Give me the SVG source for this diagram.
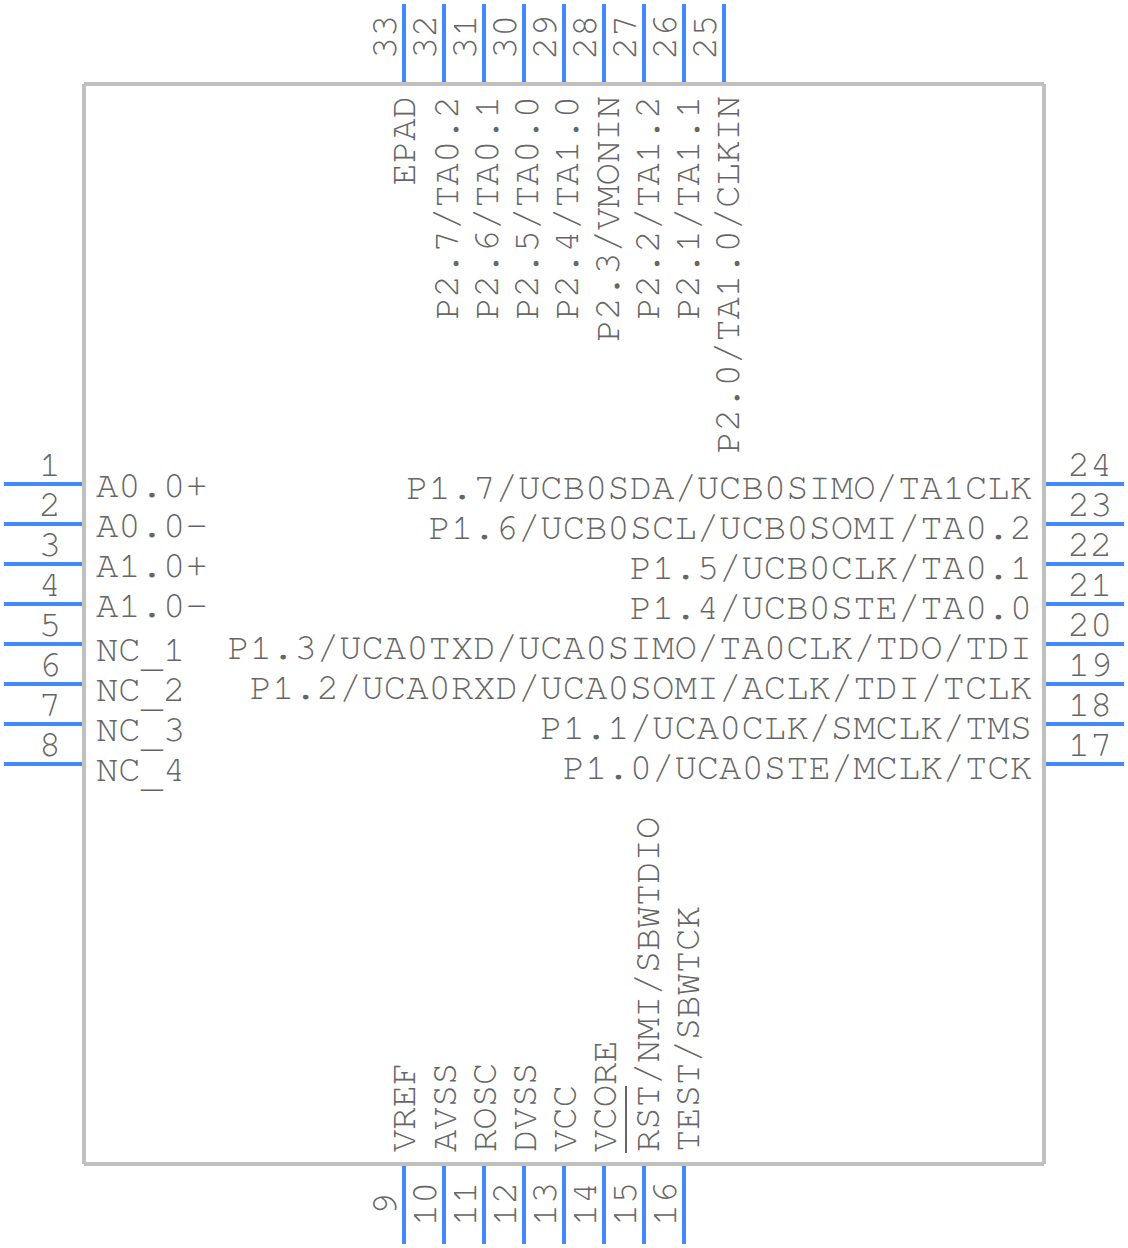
<svg xmlns="http://www.w3.org/2000/svg" width="1128" height="1248" viewBox="0 0 1128 1248">
<style>
.pin{stroke:#4488ff;stroke-width:4;fill:none}
.body{stroke:#c0c0c0;stroke-width:4;fill:none}
text{font-family:FreeMono,"Liberation Mono","Courier New",monospace;font-size:37.25px;font-kerning:none;fill:#666}
.e{text-anchor:end}.m{text-anchor:middle}
</style>
<rect width="1128" height="1248" fill="#fff"/>
<g id="body"><path class="body" d="M84 84H1044M1044 84V1164M1044 1164H84M84 1164V84"/></g>
<g id="connectors">
<path class="pin" d="M4 484H82M4 524H82M4 564H82M4 604H82M4 644H82M4 684H82M4 724H82M4 764H82"/>
<path class="pin" d="M1046 484H1124M1046 524H1124M1046 564H1124M1046 604H1124M1046 644H1124M1046 684H1124M1046 724H1124M1046 764H1124"/>
<path class="pin" d="M404 4V82M444 4V82M484 4V82M524 4V82M564 4V82M604 4V82M644 4V82M684 4V82M724 4V82"/>
<path class="pin" d="M404 1166V1244M444 1166V1244M484 1166V1244M524 1166V1244M564 1166V1244M604 1166V1244M644 1166V1244M684 1166V1244"/>
</g>
<g id="left-pins">
<text class="m" x="50" y="476">1</text>
<text class="m" x="50" y="516">2</text>
<text class="m" x="50" y="556">3</text>
<text class="m" x="50" y="596">4</text>
<text class="m" x="50" y="636">5</text>
<text class="m" x="50" y="676">6</text>
<text class="m" x="50" y="716">7</text>
<text class="m" x="50" y="756">8</text>
<text x="96" y="497">A0.0+</text>
<text x="96" y="537">A0.0-</text>
<text x="96" y="577">A1.0+</text>
<text x="96" y="617">A1.0-</text>
<text x="96" y="661">NC<tspan dy="6">_</tspan><tspan dy="-6">1</tspan></text>
<text x="96" y="701">NC<tspan dy="6">_</tspan><tspan dy="-6">2</tspan></text>
<text x="96" y="741">NC<tspan dy="6">_</tspan><tspan dy="-6">3</tspan></text>
<text x="96" y="781">NC<tspan dy="6">_</tspan><tspan dy="-6">4</tspan></text>
</g>
<g id="right-pins">
<text class="m" x="1090" y="476">24</text>
<text class="m" x="1090" y="516">23</text>
<text class="m" x="1090" y="556">22</text>
<text class="m" x="1090" y="596">21</text>
<text class="m" x="1090" y="636">20</text>
<text class="m" x="1090" y="676">19</text>
<text class="m" x="1090" y="716">18</text>
<text class="m" x="1090" y="756">17</text>
<text class="e" x="1032" y="499">P1.7/UCB0SDA/UCB0SIMO/TA1CLK</text>
<text class="e" x="1032" y="539">P1.6/UCB0SCL/UCB0SOMI/TA0.2</text>
<text class="e" x="1032" y="579">P1.5/UCB0CLK/TA0.1</text>
<text class="e" x="1032" y="619">P1.4/UCB0STE/TA0.0</text>
<text class="e" x="1032" y="659">P1.3/UCA0TXD/UCA0SIMO/TA0CLK/TDO/TDI</text>
<text class="e" x="1032" y="699">P1.2/UCA0RXD/UCA0SOMI/ACLK/TDI/TCLK</text>
<text class="e" x="1032" y="739">P1.1/UCA0CLK/SMCLK/TMS</text>
<text class="e" x="1032" y="779">P1.0/UCA0STE/MCLK/TCK</text>
</g>
<g id="top-pins">
<text class="m" transform="translate(396,37) rotate(-90)">33</text>
<text class="m" transform="translate(436,37) rotate(-90)">32</text>
<text class="m" transform="translate(476,37) rotate(-90)">31</text>
<text class="m" transform="translate(516,37) rotate(-90)">30</text>
<text class="m" transform="translate(556,37) rotate(-90)">29</text>
<text class="m" transform="translate(596,37) rotate(-90)">28</text>
<text class="m" transform="translate(636,37) rotate(-90)">27</text>
<text class="m" transform="translate(676,37) rotate(-90)">26</text>
<text class="m" transform="translate(716,37) rotate(-90)">25</text>
<text class="e" transform="translate(415,96) rotate(-90)">EPAD</text>
<text class="e" transform="translate(458,96) rotate(-90)">P2.7/TA0.2</text>
<text class="e" transform="translate(498,96) rotate(-90)">P2.6/TA0.1</text>
<text class="e" transform="translate(538,96) rotate(-90)">P2.5/TA0.0</text>
<text class="e" transform="translate(578,96) rotate(-90)">P2.4/TA1.0</text>
<text class="e" transform="translate(619,96) rotate(-90)">P2.3/VMONIN</text>
<text class="e" transform="translate(659,96) rotate(-90)">P2.2/TA1.2</text>
<text class="e" transform="translate(699,96) rotate(-90)">P2.1/TA1.1</text>
<text class="e" transform="translate(739,96) rotate(-90)">P2.0/TA1.0/CLKIN</text>
</g>
<g id="bottom-pins">
<text class="m" transform="translate(396,1204) rotate(-90)">9</text>
<text class="m" transform="translate(436,1204) rotate(-90)">10</text>
<text class="m" transform="translate(476,1204) rotate(-90)">11</text>
<text class="m" transform="translate(516,1204) rotate(-90)">12</text>
<text class="m" transform="translate(556,1204) rotate(-90)">13</text>
<text class="m" transform="translate(596,1204) rotate(-90)">14</text>
<text class="m" transform="translate(636,1204) rotate(-90)">15</text>
<text class="m" transform="translate(676,1204) rotate(-90)">16</text>
<text transform="translate(415,1152) rotate(-90)">VREF</text>
<text transform="translate(456,1152) rotate(-90)">AVSS</text>
<text transform="translate(496,1152) rotate(-90)">ROSC</text>
<text transform="translate(536,1152) rotate(-90)">DVSS</text>
<text transform="translate(576,1152) rotate(-90)">VCC</text>
<text transform="translate(616,1152) rotate(-90)">VCORE</text>
<text transform="translate(659,1152) rotate(-90)">RST/NMI/SBWTDIO</text>
<text transform="translate(699,1152) rotate(-90)">TEST/SBWTCK</text>
<path d="M626 1086V1153" stroke="#666" stroke-width="2" fill="none"/>
</g>
</svg>
